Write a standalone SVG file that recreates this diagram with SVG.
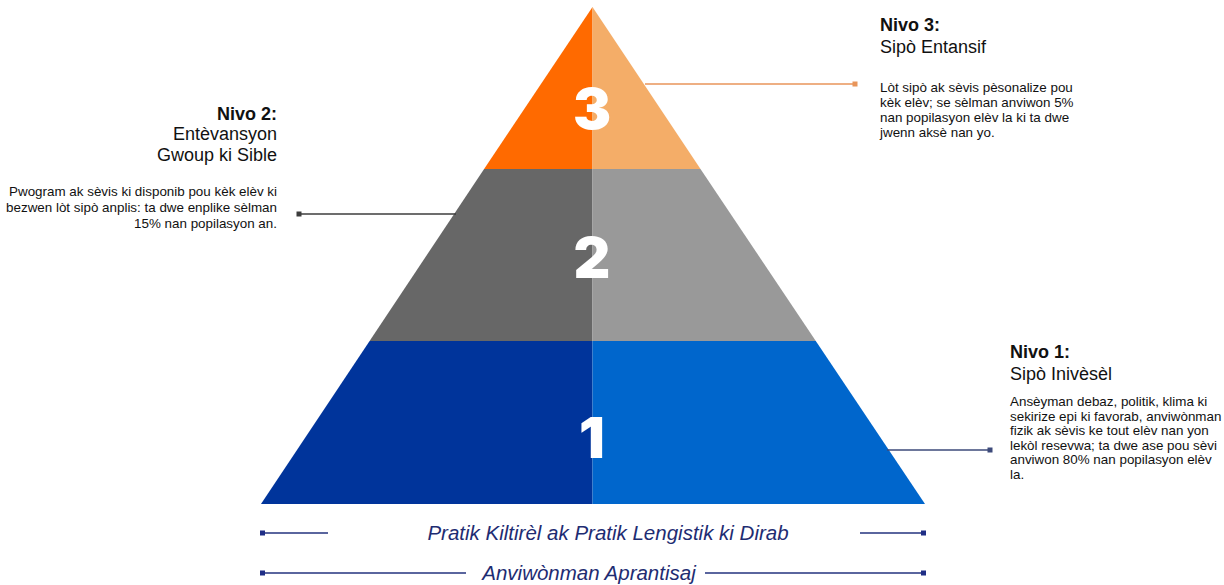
<svg xmlns="http://www.w3.org/2000/svg" width="1224" height="585" viewBox="0 0 1224 585">
<defs>
<style>
.t{font-family:"Liberation Sans",Arial,sans-serif;fill:#111}
.h{font-size:18px;font-weight:bold}
.s{font-size:18px}
.b{font-size:13.4px}
.num{font-family:Inter,"DejaVu Sans",sans-serif;font-weight:900;font-size:57px;fill:#fff;text-anchor:middle}
.band{font-family:"Liberation Sans",Arial,sans-serif;font-style:italic;font-size:20.5px;fill:#1e2c72;text-anchor:middle}
.nl{stroke:#23327e;stroke-width:1.6;fill:none}
.nm{fill:#1f2e86}
</style>
</defs>
<rect width="1224" height="585" fill="#fff"/>
<g id="tier3">
<polygon points="592.5,7 484.1,169 592.5,169" fill="#ff6a00"/>
<polygon points="592.5,7 700.5,169 592.5,169" fill="#f4ad68"/>
<text class="num" x="592" y="129">3</text>
</g>
<g id="tier2">
<polygon points="484.1,169 369.6,341 592.5,341 592.5,169" fill="#676767"/>
<polygon points="700.5,169 815.8,341 592.5,341 592.5,169" fill="#999999"/>
<text class="num" x="592" y="278">2</text>
</g>
<g id="tier1">
<polygon points="369.6,341 261,504 592.5,504 592.5,341" fill="#00349b"/>
<polygon points="815.8,341 925,504 592.5,504 592.5,341" fill="#0066cc"/>
<text class="num" x="592" y="458">1</text>
</g>
<g id="connectors">
<line x1="645" y1="84" x2="855" y2="84" stroke="#e8955a" stroke-width="1.4"/>
<rect x="852.5" y="81.5" width="5" height="5" fill="#e8955a"/>
<line x1="299" y1="214" x2="456" y2="214" stroke="#3d3d3d" stroke-width="1.4"/>
<rect x="296.5" y="211.5" width="5" height="5" fill="#3d3d3d"/>
<line x1="887" y1="450" x2="990" y2="450" stroke="#3d4a7a" stroke-width="1.4"/>
<rect x="987.5" y="447.5" width="5" height="5" fill="#3d4a7a"/>
<line class="nl" x1="263" y1="533" x2="328" y2="533"/>
<rect class="nm" x="260" y="530.5" width="5" height="5"/>
<line class="nl" x1="860" y1="533" x2="923" y2="533"/>
<rect class="nm" x="921" y="530.5" width="5" height="5"/>
<line class="nl" x1="263" y1="573" x2="466" y2="573"/>
<rect class="nm" x="260" y="570.5" width="5" height="5"/>
<line class="nl" x1="705" y1="573" x2="923" y2="573"/>
<rect class="nm" x="921" y="570.5" width="5" height="5"/>
</g>
<g id="nivo3">
<text class="t h" x="880" y="31">Nivo 3:</text>
<text class="t s" x="880" y="53">Sipò Entansif</text>
<text class="t b" x="880" y="92">Lòt sipò ak sèvis pèsonalize pou</text>
<text class="t b" x="880" y="107">kèk elèv; se sèlman anviwon 5%</text>
<text class="t b" x="880" y="122">nan popilasyon elèv la ki ta dwe</text>
<text class="t b" x="880" y="137">jwenn aksè nan yo.</text>
</g>
<g id="nivo2" text-anchor="end">
<text class="t h" x="277" y="120">Nivo 2:</text>
<text class="t s" x="277" y="140">Entèvansyon</text>
<text class="t s" x="277" y="161">Gwoup ki Sible</text>
<text class="t b" x="277" y="196">Pwogram ak sèvis ki disponib pou kèk elèv ki</text>
<text class="t b" x="277" y="212">bezwen lòt sipò anplis: ta dwe enplike sèlman</text>
<text class="t b" x="277" y="228">15% nan popilasyon an.</text>
</g>
<g id="nivo1">
<text class="t h" x="1010" y="358">Nivo 1:</text>
<text class="t s" x="1010" y="380">Sipò Inivèsèl</text>
<text class="t b" x="1010" y="406">Ansèyman debaz, politik, klima ki</text>
<text class="t b" x="1010" y="420.5">sekirize epi ki favorab, anviwònman</text>
<text class="t b" x="1010" y="435">fizik ak sèvis ke tout elèv nan yon</text>
<text class="t b" x="1010" y="449.5">lekòl resevwa; ta dwe ase pou sèvi</text>
<text class="t b" x="1010" y="464">anviwon 80% nan popilasyon elèv</text>
<text class="t b" x="1010" y="478.5">la.</text>
</g>
<g id="band-practices">
<text class="band" x="608" y="540">Pratik Kiltirèl ak Pratik Lengistik ki Dirab</text>
</g>
<g id="band-environment">
<text class="band" x="589" y="580">Anviwònman Aprantisaj</text>
</g>
</svg>
